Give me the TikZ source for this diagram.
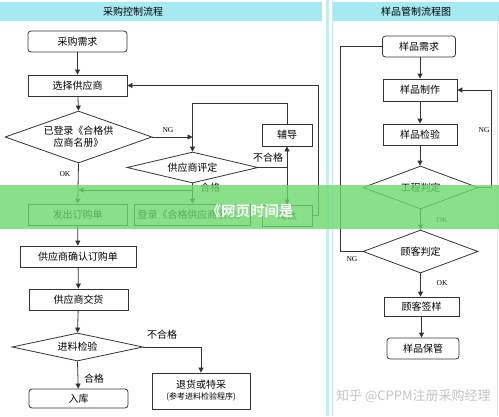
\documentclass[tikz,border=0pt]{standalone}
\usepackage{fontspec}
\setmainfont{Liberation Serif}
\newfontfamily\cjk{Noto Sans CJK SC}
\newfontfamily\cjkb{Noto Sans CJK SC Bold}
\usetikzlibrary{shapes.geometric,arrows.meta}
\definecolor{lc}{HTML}{333333}
\definecolor{hdr}{HTML}{A6EAF1}
\definecolor{sep}{HTML}{C6EDF2}
\definecolor{band}{HTML}{6CD96C}
\definecolor{wm}{HTML}{C4C4C4}
\begin{document}
\begin{tikzpicture}[x=1pt,y=-1pt,
 box/.style={draw=lc, fill=white, line width=0.8pt, minimum height=21pt, inner sep=0pt, font=\cjk\fontsize{10}{12}\selectfont},
 rbox/.style={box, rounded corners=3pt},
 dia/.style={draw=lc, fill=white, diamond, inner sep=0pt, line width=0.8pt},
 lbl/.style={font=\cjk\fontsize{10}{12}\selectfont, inner sep=0pt},
 en/.style={font=\fontsize{7.5}{9}\selectfont, inner sep=0pt},
 arr/.style={draw=lc, line width=0.8pt, -{Triangle[length=5pt,width=5pt]}},
 ln/.style={draw=lc, line width=0.8pt}]
\useasboundingbox (0,0) rectangle (499,416);
\fill[white] (0,0) rectangle (499,416);
% headers and separators
\fill[hdr] (0,2) rectangle (322,21);
\fill[hdr] (333,2) rectangle (499,21);
\fill[sep] (325.5,0) rectangle (329,416);
\draw[sep, line width=0.6pt] (332,0) -- (332,416);
\draw[sep, line width=0.6pt] (497,21) -- (497,416);
\node[lbl] (h1) at (133,12) {采购控制流程};
\node[lbl] (h2) at (416,12) {样品管制流程图};

% left flow
\node[rbox, minimum width=99pt] (n1) at (77.5,41.5) {采购需求};
\node[box, minimum width=99pt] (n2) at (77.5,85.5) {选择供应商};
\node[dia, minimum width=147pt, minimum height=52pt] (d1) at (78.5,137) {};
\node[lbl, align=center] (d1t) at (d1) {已登录《合格供\\应商名册》};
\node[dia, minimum width=131pt, minimum height=31pt] (d2) at (192.5,167.5) {};
\node[lbl] (d2t) at (d2) {供应商评定};
\node[box, minimum width=50pt, minimum height=22pt] (fd) at (287,135) {辅导};
\node[box, minimum width=99pt] (fa) at (77.5,214.5) {发出订购单};
\node[box, minimum width=116pt] (dl) at (192.5,214.5) {登录《合格供应商名录》};
\node[box, minimum width=50pt] (tt) at (287,215.5) {淘汰};
\node[box, minimum width=116pt] (qr) at (78,256.5) {供应商确认订购单};
\node[box, minimum width=99pt] (jh) at (78.5,299.5) {供应商交货};
\node[dia, minimum width=131pt, minimum height=28pt] (d3) at (77.5,347) {};
\node[lbl] (d3t) at (d3) {进料检验};
\node[box, minimum width=98pt, minimum height=36pt, align=center] (th) at (201,391)
  {退货或特采\\[-1pt]{\fontsize{8}{10}\selectfont (参考进料检验程序)}};
\node[rbox, minimum width=99pt, minimum height=19pt] (rk) at (78.5,398.5) {入库};

\coordinate (j1) at (192.5,137);
\coordinate (c1) at (192.5,103);
\coordinate (j2) at (287,167.5);
\coordinate (j3) at (192.5,190);
\coordinate (j4) at (78.5,190);
\coordinate (c2) at (318,85.5);

\draw[arr] (n1) -- (n2);
\draw[arr] (n2) -- (d1.north);
\draw[arr] (d1.south) -- (fa);
\draw[arr] (d1.east) -- (j1);
\draw[arr] (fd.north) |- (c1) -- (d2.north);
\draw[ln] (d2.east) -- (j2);
\draw[arr] (j2) -- (fd.south);
\draw[arr] (j2) -- (tt.north);
\draw[arr] (d2.south) -- (dl.north);
\draw[arr] (j3) -- (j4);
\draw[arr] (tt.east) -| (c2) -- (n2.east);
\draw[arr] (fa) -- (qr);
\draw[arr] (qr) -- (jh);
\draw[arr] (jh) -- (d3.north);
\draw[arr] (d3.east) -| (th.north);
\draw[arr] (d3.south) -- (rk);

\node[en] (l1) at (168,130) {NG};
\node[en] (l2) at (65,174) {OK};
\node[lbl] (l3) at (268,158) {不合格};
\node[lbl] (l4) at (210,188) {合格};
\node[lbl] (l5) at (162,335) {不合格};
\node[lbl] (l6) at (94,379) {合格};

% right flow
\node[rbox, minimum width=73pt] (r1) at (419,46.5) {样品需求};
\node[box, minimum width=74pt, minimum height=22pt] (r2) at (420,90) {样品制作};
\node[box, minimum width=74pt] (r3) at (420,134.5) {样品检验};
\node[dia, minimum width=115pt, minimum height=43pt] (rd1) at (420.5,187.5) {};
\node[lbl] (rd1t) at (rd1) {工程判定};
\node[dia, minimum width=115pt, minimum height=43pt] (rd2) at (420.5,251.5) {};
\node[lbl] (rd2t) at (rd2) {顾客判定};
\node[box, minimum width=75pt, minimum height=19pt] (r4) at (421.5,306.5) {顾客签样};
\node[rbox, minimum width=72pt] (r5) at (423,348.5) {样品保管};

\coordinate (c3) at (491,90);
\coordinate (c4) at (340,46.5);

\draw[arr] (r1.south -| r2.north) -- (r2.north);
\draw[arr] (r2) -- (r3);
\draw[arr] (r3.south) -- (r3.south |- rd1.north);
\draw[arr] (rd1.south) -- (rd1.south |- rd2.north);
\draw[arr] (rd2.south) -- (rd2.south |- r4.north);
\draw[arr] (r4.south) -- (r4.south |- r5.north);
\draw[arr] (rd1.east) -| (c3) -- (r2.east);
\draw[ln] (rd2.west) -| (c4) -- (r1.west);

\node[en] (l7) at (484,130) {NG};
\node[en] (l8) at (442,220) {OK};
\node[en] (l9) at (352,259) {NG};
\node[en] (l10) at (442,283) {OK};

% overlay band and watermark
\fill[band, fill opacity=0.8] (0,185) rectangle (499,229);
\node[font=\cjkb\fontsize{14.5}{16}\selectfont, text=white, inner sep=0pt] (ov) at (250,211) {《网页时间是};
\node[font=\cjk\fontsize{13}{15}\selectfont, text=wm, anchor=west, inner sep=0pt] (wmk) at (336,396) {知乎 @CPPM注册采购经理};
\end{tikzpicture}
\end{document}
